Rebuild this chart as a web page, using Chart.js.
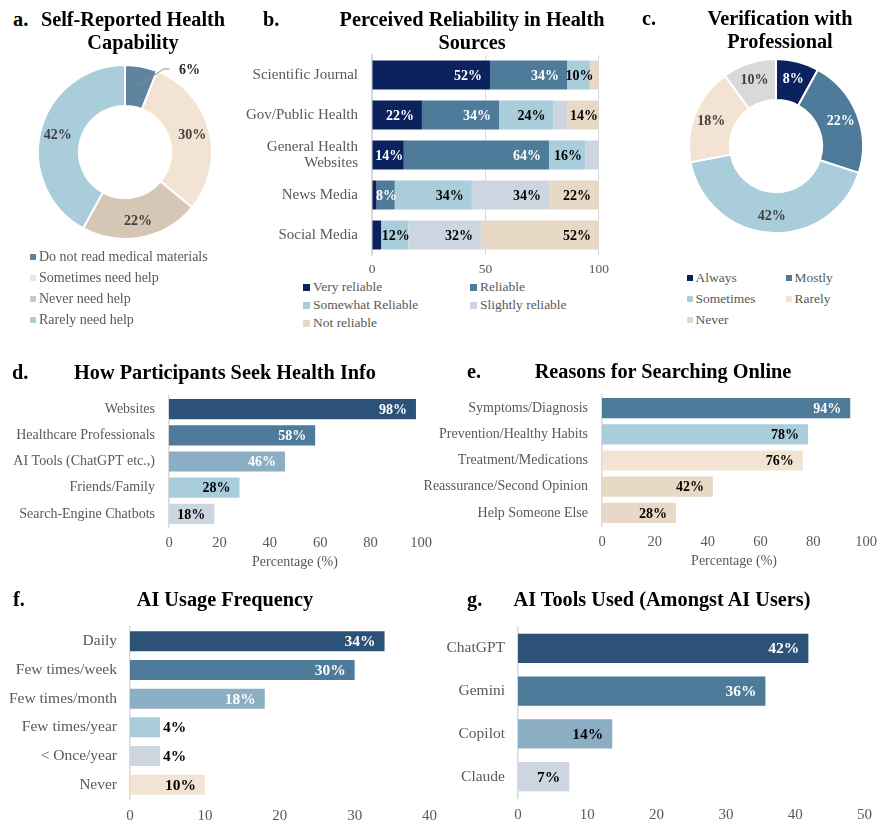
<!DOCTYPE html>
<html><head><meta charset="utf-8">
<script src="https://cdn.jsdelivr.net/npm/chart.js@4.4.1/dist/chart.umd.min.js"></script>
<style>
html,body{margin:0;padding:0;background:#fff;}
body{width:884px;height:824px;position:relative;overflow:hidden;font-family:'Liberation Serif','Times New Roman',serif;}
canvas{position:absolute;}
.ttl{position:absolute;font-weight:bold;font-size:20.3px;line-height:23.3px;color:#000;text-align:center;white-space:nowrap;width:400px;}
.let{position:absolute;font-weight:bold;font-size:20.3px;line-height:23.3px;color:#000;}
.lg{position:absolute;color:#595959;white-space:nowrap;line-height:16px;}
.lg i{position:absolute;left:0;}
</style></head>
<body>
<canvas id="ca" width="200" height="200" style="left:25px;top:52px"></canvas>
<canvas id="cb" width="385" height="248" style="left:230px;top:31px"></canvas>
<canvas id="cc" width="200" height="200" style="left:676px;top:46px"></canvas>
<canvas id="cd" width="440" height="199" style="left:0px;top:372px"></canvas>
<canvas id="ce" width="484" height="199" style="left:400px;top:371px"></canvas>
<canvas id="cf" width="445" height="222" style="left:0px;top:603px"></canvas>
<canvas id="cg" width="440" height="221" style="left:440px;top:603px"></canvas>

<div class="let" style="left:13px;top:8px">a.</div>
<div class="ttl" style="left:-67px;top:8px">Self-Reported Health<br>Capability</div>
<div class="let" style="left:263px;top:8px">b.</div>
<div class="ttl" style="left:272px;top:8px">Perceived Reliability in Health<br>Sources</div>
<div class="let" style="left:642px;top:7px">c.</div>
<div class="ttl" style="left:580px;top:7px">Verification with<br>Professional</div>
<div class="let" style="left:12px;top:361px">d.</div>
<div class="ttl" style="left:25px;top:361px">How Participants Seek Health Info</div>
<div class="let" style="left:467px;top:360px">e.</div>
<div class="ttl" style="left:463px;top:360px">Reasons for Searching Online</div>
<div class="let" style="left:13px;top:588px">f.</div>
<div class="ttl" style="left:25px;top:588px">AI Usage Frequency</div>
<div class="let" style="left:467px;top:588px">g.</div>
<div class="ttl" style="left:462px;top:588px">AI Tools Used (Amongst AI Users)</div>

<script>
// ---------- DATA ----------
const capabilityLabels = ['Do not read medical materials', 'Sometimes need help', 'Never need help', 'Rarely need help'];
const capabilityValues = [6, 30, 22, 42];

const reliabilitySources = ['Scientific Journal', 'Gov/Public Health', 'General Health Websites', 'News Media', 'Social Media'];
const reliabilityLevels = ['Very reliable', 'Reliable', 'Somewhat Reliable', 'Slightly reliable', 'Not reliable'];
const veryReliable     = [52, 22, 14, 2, 4];
const reliable         = [34, 34, 64, 8, 0];
const somewhatReliable = [10, 24, 16, 34, 12];
const slightlyReliable = [0, 6, 6, 34, 32];
const notReliable      = [4, 14, 0, 22, 52];

const verificationLabels = ['Always', 'Mostly', 'Sometimes', 'Rarely', 'Never'];
const verificationValues = [8, 22, 42, 18, 10];

const seekLabels = ['Websites', 'Healthcare Professionals', 'AI Tools (ChatGPT etc.,)', 'Friends/Family', 'Search-Engine Chatbots'];
const seekValues = [98, 58, 46, 28, 18];

const reasonLabels = ['Symptoms/Diagnosis', 'Prevention/Healthy Habits', 'Treatment/Medications', 'Reassurance/Second Opinion', 'Help Someone Else'];
const reasonValues = [94, 78, 76, 42, 28];

const usageLabels = ['Daily', 'Few times/week', 'Few times/month', 'Few times/year', '< Once/year', 'Never'];
const usageValues = [34, 30, 18, 4, 4, 10];

const toolLabels = ['ChatGPT', 'Gemini', 'Copilot', 'Claude'];
const toolValues = [41.9, 35.7, 13.6, 7.4];

// ---------- STYLE ----------
const NAVY = '#0c225f', DARK = '#2c5277', MID = '#4e7b9a', GREYBLUE = '#8caec4', LIGHT = '#a9cddb',
      PALE = '#cdd6e0', CREAM = '#f2e3d3', TAN = '#e8d8c6', SAND = '#d5c6b6', GREY = '#d9d9d9';
const FONT = "'Liberation Serif','Times New Roman',serif";
Chart.defaults.font.family = FONT;
Chart.defaults.color = '#595959';

function wrap(s, n) {
  const words = s.split(' '); const lines = []; let cur = '';
  words.forEach(w => { if (cur && (cur + ' ' + w).length > n) { lines.push(cur); cur = w; } else cur = cur ? cur + ' ' + w : w; });
  lines.push(cur); return lines.length > 1 ? lines : s;
}

const barLabelPlugin = {
  id: 'barLabels',
  afterDatasetsDraw(chart, args, opts) {
    if (!opts || !opts.size) return;
    const ctx = chart.ctx; ctx.save();
    ctx.font = 'bold ' + opts.size + 'px ' + FONT; ctx.textBaseline = 'middle';
    chart.data.datasets.forEach((ds, di) => {
      const meta = chart.getDatasetMeta(di);
      meta.data.forEach((bar, i) => {
        const v = ds.data[i];
        if (!(v > 0) || v < (opts.min || 0)) return;
        const p = bar.getProps(['x', 'base', 'y'], true);
        const text = Math.round(v) + '%';
        const w = ctx.measureText(text).width;
        const left = Math.min(p.x, p.base), right = Math.max(p.x, p.base), bw = right - left;
        const lc = ds.labelColors; let color = Array.isArray(lc) ? lc[i] : lc;
        let tx;
        if (w + opts.pad + 4 <= bw) { ctx.textAlign = 'right'; tx = right - opts.pad; }
        else if (opts.stacked) { ctx.textAlign = 'center'; tx = (left + right) / 2 + 1; }
        else { ctx.textAlign = 'left'; tx = right + 3; color = '#000'; }
        ctx.fillStyle = color; ctx.fillText(text, tx, p.y + 1);
      });
    });
    ctx.restore();
  }
};

const donutLabelPlugin = {
  id: 'donutLabels',
  afterDatasetsDraw(chart, args, opts) {
    if (!opts || !opts.size) return;
    const ctx = chart.ctx; ctx.save();
    ctx.font = 'bold ' + opts.size + 'px ' + FONT; ctx.textAlign = 'center'; ctx.textBaseline = 'middle';
    const ds = chart.data.datasets[0];
    chart.getDatasetMeta(0).data.forEach((arc, i) => {
      const p = arc.getProps(['x', 'y', 'startAngle', 'endAngle', 'innerRadius', 'outerRadius'], true);
      const mid = (p.startAngle + p.endAngle) / 2;
      const rm = (p.innerRadius + p.outerRadius) / 2;
      const text = ds.data[i] + '%';
      if (opts.outIndex === i) {
        const mx = p.x + Math.cos(mid) * rm, my = p.y + Math.sin(mid) * rm;
        const lx = p.x + opts.outDx, ly = p.y + opts.outDy;
        ctx.strokeStyle = '#8c8c8c'; ctx.lineWidth = 1;
        ctx.beginPath(); ctx.moveTo(mx, my); ctx.lineTo(lx - 26, ly); ctx.lineTo(lx - 20, ly); ctx.stroke();
        ctx.fillStyle = '#262626'; ctx.fillText(text, lx, ly + 1);
      } else {
        const r = rm + (opts.shift || 0);
        ctx.fillStyle = ds.labelColors[i];
        ctx.fillText(text, p.x + Math.cos(mid) * r, p.y + Math.sin(mid) * r + 1);
      }
    });
    ctx.restore();
  }
};
Chart.register(barLabelPlugin, donutLabelPlugin);

function donut(id, values, labels, colors, labelColors, extra) {
  return new Chart(document.getElementById(id), {
    type: 'doughnut',
    data: { labels: labels, datasets: [{ data: values, backgroundColor: colors, borderColor: '#ffffff', borderWidth: 2, labelColors: labelColors }] },
    options: {
      responsive: false, animation: false, devicePixelRatio: 1, cutout: '53%',
      layout: { padding: 12 },
      plugins: { legend: { display: false }, tooltip: { enabled: false }, donutLabels: Object.assign({ size: 14 }, extra) }
    }
  });
}

function hbar(id, o) {
  const yTicks = { color: '#595959', font: { size: o.yfs, lineHeight: 1.1 }, padding: o.ypad, autoSkip: false };
  if (o.wrap) yTicks.callback = function (v) { return wrap(this.getLabelForValue(v), o.wrap); };
  o.datasets.forEach(d => { d.barPercentage = o.bp; d.categoryPercentage = o.cp; d.borderWidth = 0; });
  return new Chart(document.getElementById(id), {
    type: 'bar',
    data: { labels: o.labels, datasets: o.datasets },
    options: {
      indexAxis: 'y', responsive: false, animation: false, devicePixelRatio: 1,
      layout: { padding: { left: 0, right: o.pr, top: 24, bottom: 0 } },
      plugins: { legend: { display: false }, tooltip: { enabled: false },
        barLabels: { size: o.lsize, pad: o.lpad, min: o.lmin || 0, stacked: !!o.stacked } },
      scales: {
        x: {
          type: 'linear', min: 0, max: o.max, stacked: !!o.stacked,
          ticks: { stepSize: o.step, color: '#595959', font: { size: o.xfs }, padding: o.xpad, maxRotation: 0 },
          grid: { display: !!o.grid, drawTicks: false, color: '#d9d9d9', lineWidth: 1 },
          border: { display: false },
          title: o.xtitle ? { display: true, text: o.xtitle, color: '#595959', font: { size: 14 }, padding: { top: 0, bottom: 0 } } : { display: false },
          afterFit: s => { s.height = o.xh; }
        },
        y: {
          stacked: !!o.stacked,
          ticks: yTicks,
          grid: { display: false, drawTicks: false },
          border: { display: true, color: '#d9d9d9', width: 1.5 },
          afterFit: s => { s.width = o.yw; }
        }
      }
    }
  });
}

function legend(items, colors, pos) {
  items.forEach((t, i) => {
    const col = i % pos.cols, row = Math.floor(i / pos.cols);
    const d = document.createElement('div'); d.className = 'lg';
    d.style.left = pos.x[col] + 'px'; d.style.top = (pos.y0 + row * pos.dy - 8) + 'px';
    d.style.fontSize = pos.size + 'px'; d.style.paddingLeft = pos.off + 'px';
    const m = document.createElement('i'); m.style.background = colors[i];
    m.style.width = pos.ms + 'px'; m.style.height = pos.ms + 'px'; m.style.top = (8 - pos.ms / 2) + 'px';
    d.appendChild(m); d.appendChild(document.createTextNode(t)); document.body.appendChild(d);
  });
}

// a. donut
const capColors = ['#5e84a0', CREAM, SAND, LIGHT];
donut('ca', capabilityValues, capabilityLabels, capColors, ['#262626', '#404040', '#404040', '#404040'],
  { shift: 3, outIndex: 0, outDx: 64.5, outDy: -83 });
legend(capabilityLabels, capColors, { cols: 1, x: [30], y0: 257, dy: 21, off: 9, size: 14, ms: 6 });

// b. stacked reliability
const relColors = [NAVY, MID, LIGHT, PALE, TAN];
const relSeries = [veryReliable, reliable, somewhatReliable, slightlyReliable, notReliable];
const relLabelColors = ['#ffffff', '#ffffff', '#000000', '#000000', '#000000'];
hbar('cb', {
  labels: reliabilitySources, stacked: true, wrap: 18,
  datasets: relSeries.map((s, k) => ({ label: reliabilityLevels[k], data: s, backgroundColor: relColors[k], labelColors: relLabelColors[k] })),
  max: 100, step: 50, grid: true, xfs: 13.5, xpad: 6, xh: 24, yfs: 15, ypad: 14, yw: 142, pr: 13,
  bp: 0.9, cp: 0.805, lsize: 14, lpad: 8, lmin: 8
});
legend(reliabilityLevels, relColors, { cols: 2, x: [303, 470], y0: 287, dy: 18, off: 10, size: 13.5, ms: 7 });

// c. donut
const verColors = [NAVY, MID, LIGHT, CREAM, GREY];
donut('cc', verificationValues, verificationLabels, verColors, ['#ffffff', '#ffffff', '#404040', '#404040', '#404040'], { shift: 3 });
legend(verificationLabels, verColors, { cols: 2, x: [687, 786], y0: 278, dy: 21, off: 8.5, size: 13.5, ms: 6 });

// d.
hbar('cd', {
  labels: seekLabels,
  datasets: [{ data: seekValues, backgroundColor: [DARK, MID, GREYBLUE, LIGHT, PALE], labelColors: ['#fff', '#fff', '#fff', '#000', '#000'] }],
  max: 100, step: 20, xfs: 14.5, xpad: 7, xh: 44, xtitle: 'Percentage (%)', yfs: 14, ypad: 14, yw: 169, pr: 19,
  bp: 0.9, cp: 0.855, lsize: 14, lpad: 9
});

// e.
hbar('ce', {
  labels: reasonLabels,
  datasets: [{ data: reasonValues, backgroundColor: [MID, LIGHT, CREAM, TAN, TAN], labelColors: ['#fff', '#000', '#000', '#000', '#000'] }],
  max: 100, step: 20, xfs: 14.5, xpad: 7, xh: 44, xtitle: 'Percentage (%)', yfs: 14, ypad: 14, yw: 202, pr: 11,
  bp: 0.9, cp: 0.855, lsize: 14, lpad: 9
});

// f.
hbar('cf', {
  labels: usageLabels,
  datasets: [{ data: usageValues, backgroundColor: [DARK, MID, GREYBLUE, LIGHT, PALE, CREAM], labelColors: ['#fff', '#fff', '#fff', '#000', '#000', '#000'] }],
  max: 40, step: 10, xfs: 15, xpad: 8, xh: 26, yfs: 15.5, ypad: 13, yw: 130, pr: 15,
  bp: 0.875, cp: 0.8, lsize: 15.5, lpad: 9
});

// g.
hbar('cg', {
  labels: toolLabels,
  datasets: [{ data: toolValues, backgroundColor: [DARK, MID, GREYBLUE, PALE], labelColors: ['#fff', '#fff', '#000', '#000'] }],
  max: 50, step: 10, xfs: 15, xpad: 8, xh: 26, yfs: 15.5, ypad: 13, yw: 78, pr: 12,
  bp: 0.85, cp: 0.8, lsize: 15.5, lpad: 9
});
</script>
</body></html>
